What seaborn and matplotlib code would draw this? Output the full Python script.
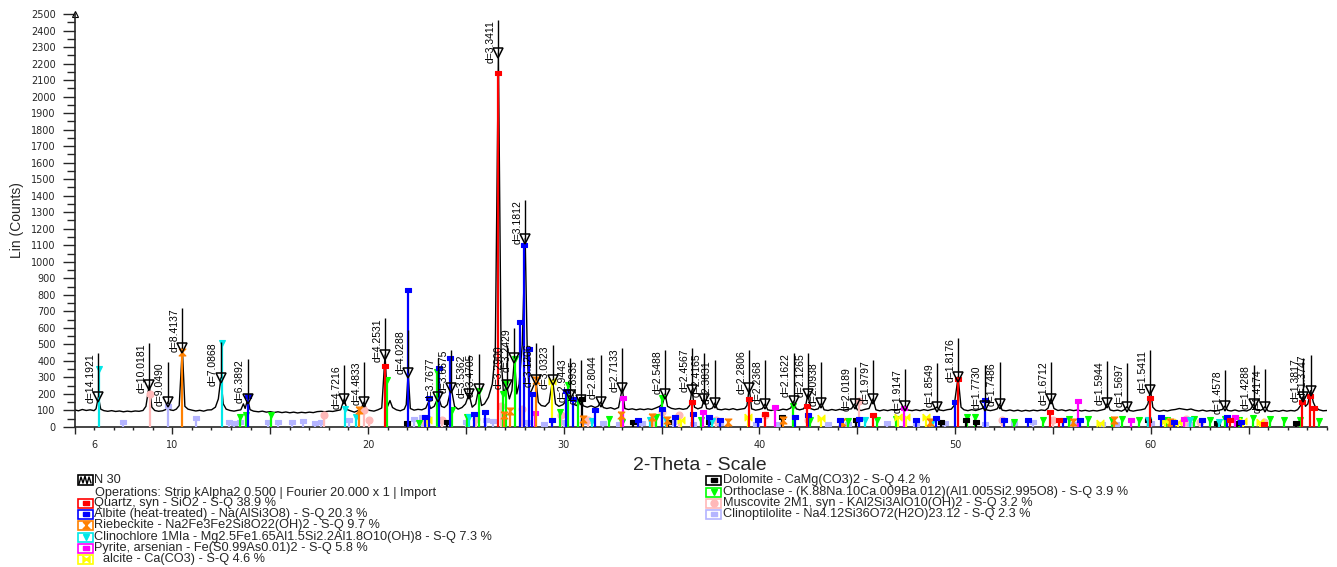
import matplotlib
matplotlib.use("Agg")
import matplotlib.pyplot as plt
from matplotlib.lines import Line2D
from matplotlib.patches import Rectangle
import pandas as pd
import seaborn as sns

W, H = 1337, 567

trace = [
    (5.0, 104), (5.2, 98), (5.4, 106), (5.6, 100), (5.8, 104), (6.0, 99), (6.1, 110), (6.22, 182), (6.34, 108),
    (6.5, 99), (6.7, 95), (6.9, 99), (7.1, 94), (7.3, 97), (7.5, 92), (7.7, 96), (7.9, 93), (8.1, 97), (8.3, 95),
    (8.5, 100), (8.65, 125), (8.82, 254), (8.95, 120), (9.1, 100), (9.3, 95), (9.5, 98), (9.65, 105), (9.77, 151),
    (9.88, 104), (10.05, 100), (10.2, 108), (10.35, 130), (10.51, 478), (10.64, 125), (10.8, 108), (11.0, 102),
    (11.2, 97), (11.4, 101), (11.6, 96), (11.8, 103), (12.0, 104), (12.2, 120), (12.35, 170), (12.48, 297),
    (12.6, 140), (12.75, 108), (12.95, 100), (13.15, 96), (13.35, 101), (13.5, 104), (13.63, 140), (13.72, 112),
    (13.85, 170), (13.97, 105), (14.15, 96), (14.4, 92), (14.6, 96), (14.8, 90), (15.0, 93), (15.2, 88),
    (15.4, 92), (15.6, 87), (15.8, 91), (16.0, 86), (16.2, 90), (16.4, 85), (16.6, 89), (16.8, 86), (17.0, 90),
    (17.2, 87), (17.4, 93), (17.6, 95), (17.8, 92), (18.0, 96), (18.2, 94), (18.4, 99), (18.6, 104), (18.78, 170),
    (18.92, 106), (19.1, 98), (19.3, 90), (19.5, 100), (19.65, 110), (19.79, 151), (19.92, 105), (20.1, 100),
    (20.3, 96), (20.5, 104), (20.7, 115), (20.87, 436), (21.0, 125), (21.12, 160), (21.25, 118), (21.45, 104),
    (21.65, 98), (21.85, 108), (21.95, 135), (22.05, 327), (22.16, 112), (22.35, 102), (22.55, 107), (22.75, 104),
    (22.95, 114), (23.08, 150), (23.2, 112), (23.38, 125), (23.59, 182), (23.75, 125), (23.9, 118), (24.05, 135),
    (24.25, 236), (24.42, 125), (24.6, 108), (24.8, 118), (24.98, 140), (25.16, 200), (25.32, 120), (25.5, 140),
    (25.65, 230), (25.8, 130), (25.95, 140), (26.15, 180), (26.35, 260), (26.5, 450), (26.66, 2264), (26.8, 420),
    (26.92, 200), (27.08, 254), (27.22, 170), (27.35, 220), (27.48, 417), (27.6, 200), (27.72, 260), (27.88, 500),
    (28.03, 1140), (28.14, 420), (28.24, 200), (28.35, 220), (28.58, 284), (28.7, 150), (28.85, 130), (29.05, 125),
    (29.25, 150), (29.43, 284), (29.58, 140), (29.75, 125), (29.95, 135), (30.15, 160), (30.33, 194), (30.48, 140),
    (30.65, 130), (30.77, 145), (30.88, 163), (31.0, 128), (31.2, 120), (31.4, 128), (31.6, 118), (31.75, 125),
    (31.89, 151), (32.02, 118), (32.2, 112), (32.4, 117), (32.6, 108), (32.8, 118), (32.99, 236), (33.12, 112),
    (33.3, 106), (33.5, 110), (33.7, 104), (33.9, 109), (34.1, 105), (34.3, 110), (34.5, 106), (34.7, 115),
    (34.9, 125), (35.05, 140), (35.18, 200), (35.3, 125), (35.5, 113), (35.7, 108), (35.9, 112), (36.1, 107),
    (36.3, 112), (36.43, 130), (36.55, 224), (36.68, 120), (36.85, 110), (37.05, 118), (37.18, 170), (37.3, 112),
    (37.45, 108), (37.6, 115), (37.72, 145), (37.85, 108), (38.05, 104), (38.25, 109), (38.45, 105), (38.65, 111),
    (38.85, 104), (39.05, 108), (39.25, 112), (39.36, 130), (39.48, 236), (39.6, 110), (39.8, 102), (40.0, 106),
    (40.15, 112), (40.29, 139), (40.42, 104), (40.6, 100), (40.8, 106), (41.0, 101), (41.2, 108), (41.4, 104),
    (41.6, 115), (41.74, 157), (41.88, 110), (42.05, 104), (42.25, 110), (42.36, 130), (42.48, 200), (42.6, 112),
    (42.8, 104), (43.0, 110), (43.17, 145), (43.3, 104), (43.5, 100), (43.7, 106), (43.9, 101), (44.1, 107),
    (44.3, 102), (44.5, 107), (44.7, 110), (44.86, 139), (45.0, 104), (45.2, 100), (45.4, 107), (45.6, 112),
    (45.8, 170), (45.95, 104), (46.15, 98), (46.35, 104), (46.55, 99), (46.75, 105), (46.95, 100), (47.15, 106),
    (47.3, 112), (47.44, 127), (47.58, 103), (47.8, 99), (48.0, 104), (48.2, 99), (48.4, 105), (48.6, 100),
    (48.8, 106), (48.95, 110), (49.07, 121), (49.2, 103), (49.4, 99), (49.6, 105), (49.8, 108), (49.95, 130),
    (50.15, 303), (50.3, 120), (50.45, 104), (50.65, 99), (50.85, 105), (51.05, 100), (51.25, 107), (51.38, 112),
    (51.5, 127), (51.62, 103), (51.8, 99), (52.0, 104), (52.15, 110), (52.27, 139), (52.4, 102), (52.6, 98),
    (52.8, 103), (53.0, 97), (53.2, 102), (53.4, 96), (53.6, 101), (53.8, 97), (54.0, 102), (54.2, 98),
    (54.4, 103), (54.6, 100), (54.75, 115), (54.9, 171), (55.05, 112), (55.25, 100), (55.45, 104), (55.65, 98),
    (55.85, 104), (56.05, 99), (56.25, 103), (56.45, 97), (56.65, 101), (56.85, 96), (57.05, 100), (57.25, 97),
    (57.45, 102), (57.65, 108), (57.78, 145), (57.92, 103), (58.1, 98), (58.3, 102), (58.5, 96), (58.65, 105),
    (58.78, 123), (58.92, 100), (59.1, 96), (59.3, 101), (59.5, 104), (59.7, 110), (59.85, 140), (59.98, 224),
    (60.1, 120), (60.25, 101), (60.45, 96), (60.65, 101), (60.85, 97), (61.05, 103), (61.25, 106), (61.45, 112),
    (61.65, 108), (61.85, 104), (62.05, 109), (62.25, 101), (62.45, 97), (62.65, 102), (62.85, 96), (63.05, 100),
    (63.25, 95), (63.45, 101), (63.65, 106), (63.79, 127), (63.92, 101), (64.1, 97), (64.3, 103), (64.5, 96),
    (64.7, 100), (64.9, 97), (65.1, 108), (65.25, 139), (65.38, 103), (65.55, 99), (65.7, 106), (65.84, 123),
    (65.98, 98), (66.15, 94), (66.35, 99), (66.55, 95), (66.75, 101), (66.95, 96), (67.15, 100), (67.35, 97),
    (67.5, 105), (67.65, 130), (67.77, 182), (67.9, 125), (68.02, 140), (68.17, 220), (68.3, 150), (68.42, 118),
    (68.6, 104), (68.8, 98), (69.0, 100),
]

# labelled peaks: position, peak counts, top of the label line, label
peak_tt = [6.22, 8.82, 9.77, 10.51, 12.48, 13.85, 18.78, 19.79, 20.87, 22.05, 23.59, 24.25, 25.16, 25.65,
           26.66, 27.08, 27.48, 28.03, 28.58, 29.43, 30.33, 30.88, 31.89, 32.99, 35.18, 36.55, 37.18, 37.72,
           39.48, 40.29, 41.74, 42.48, 43.17, 44.86, 45.80, 47.44, 49.07, 50.15, 51.50, 52.27, 54.90, 57.78,
           58.78, 59.98, 63.79, 65.25, 65.84, 67.77, 68.17]
peak_cnt = [182, 254, 151, 478, 297, 170, 170, 151, 436, 327, 182, 236, 200, 230,
            2264, 254, 417, 1140, 284, 284, 194, 163, 151, 236, 200, 224, 170, 145,
            236, 139, 157, 200, 145, 139, 170, 127, 121, 303, 127, 139, 171, 145,
            123, 224, 127, 139, 123, 182, 220]
peak_top = [448, 508, 394, 720, 515, 412, 375, 394, 660, 587, 418, 466, 436, 442,
            2464, 496, 599, 1374, 508, 496, 418, 406, 436, 478, 466, 478, 448, 406,
            466, 406, 448, 448, 394, 363, 406, 351, 387, 539, 375, 394, 395, 400,
            387, 466, 345, 375, 351, 418, 436]
peak_lbl = ["d=14.1921", "d=10.0181", "d=9.0490", "d=8.4137", "d=7.0868", "d=6.3892", "d=4.7216", "d=4.4833",
            "d=4.2531", "d=4.0288", "d=3.7677", "d=3.6675", "d=3.5362", "d=3.4705", "d=3.3411", "d=3.2900",
            "d=3.2429", "d=3.1812", "d=3.1206", "d=3.0323", "d=2.9443", "d=2.8935", "d=2.8044", "d=2.7133",
            "d=2.5488", "d=2.4567", "d=2.4165", "d=2.3831", "d=2.2806", "d=2.2368", "d=2.1622", "d=2.1265",
            "d=2.0938", "d=2.0189", "d=1.9797", "d=1.9147", "d=1.8549", "d=1.8176", "d=1.7730", "d=1.7486",
            "d=1.6712", "d=1.5944", "d=1.5697", "d=1.5411", "d=1.4578", "d=1.4288", "d=1.4174", "d=1.3817",
            "d=1.3747"]

# reference stick patterns of the identified phases
quartz_tt = [20.86, 26.64, 36.54, 39.47, 40.30, 42.45, 45.79, 50.14, 54.87, 55.33, 59.96, 64.04, 65.79, 67.74, 68.14, 68.32]
quartz_h = [369, 2140, 150, 170, 80, 130, 70, 290, 90, 40, 175, 40, 20, 150, 188, 115]

albite_tt = [13.87, 22.04, 22.9, 23.1, 23.6, 24.2, 25.4, 26.0, 27.77, 27.95, 28.22, 28.4, 29.4, 30.1, 30.45,
             31.6, 33.8, 35.0, 35.7, 36.6, 37.4, 38.0, 39.9, 41.8, 42.5, 44.1, 45.1, 48.0, 49.0, 50.0, 51.5,
             52.5, 53.7, 55.5, 56.4, 60.5, 61.2, 62.6, 63.9, 64.6]
albite_h = [188, 830, 60, 175, 357, 418, 80, 90, 636, 1100, 470, 200, 40, 220, 170,
            100, 40, 110, 60, 80, 60, 40, 45, 60, 70, 40, 50, 40, 55, 150, 165,
            40, 40, 45, 40, 60, 30, 40, 60, 30]

riebeckite_tt = [10.51, 19.55, 26.95, 27.25, 28.58, 31.0, 32.9, 34.5, 35.3, 38.4, 41.2, 44.2, 48.7, 56.0, 58.1, 61.0]
riebeckite_h = [455, 100, 70, 95, 284, 50, 70, 60, 40, 30, 40, 30, 30, 30, 40, 30]

clinochlore_tt = [6.25, 12.52, 18.83, 19.4, 25.15, 31.45, 34.4, 35.2, 37.6, 45.4, 48.8, 59.85, 62.0, 63.5]
clinochlore_h = [350, 508, 110, 60, 60, 35, 40, 45, 35, 45, 30, 40, 40, 30]

pyrite_tt = [28.52, 33.05, 37.1, 40.8, 47.4, 56.3, 59.0, 61.7, 64.3]
pyrite_h = [85, 175, 90, 120, 115, 160, 40, 50, 60]

calcite_tt = [23.05, 29.42, 36.0, 39.42, 43.17, 47.1, 47.5, 48.5, 57.4, 60.7, 61.4, 64.7, 65.6]
calcite_h = [45, 280, 45, 60, 55, 60, 60, 60, 25, 35, 30, 35, 30]

dolomite_tt = [22.0, 24.05, 30.95, 33.55, 35.35, 37.4, 41.15, 44.95, 49.3, 50.55, 51.05, 59.85, 63.4, 64.4, 67.4]
dolomite_h = [25, 30, 170, 30, 30, 30, 60, 40, 30, 40, 30, 40, 25, 25, 25]

orthoclase_tt = [13.45, 13.75, 15.05, 20.98, 22.6, 23.5, 24.3, 25.05, 25.65, 26.9, 27.05, 27.5, 29.8, 30.2,
                 30.75, 32.3, 33.0, 34.7, 35.0, 37.0, 41.7, 42.6, 44.5, 46.0, 47.0, 50.6, 51.0, 53.0, 54.5,
                 55.8, 56.8, 58.0, 58.5, 59.4, 60.8, 62.2, 63.0, 63.8, 64.5, 65.2, 66.1, 66.8, 67.6, 68.6]
orthoclase_h = [60, 70, 70, 284, 25, 333, 100, 60, 220, 200, 266, 410, 90, 254,
                150, 50, 30, 60, 176, 40, 130, 40, 35, 40, 50, 60, 60, 30, 40,
                50, 50, 40, 50, 40, 45, 50, 40, 50, 40, 55, 50, 40, 45, 35]

muscovite_tt = [8.85, 17.75, 19.8, 20.05, 22.85, 23.8, 25.5, 26.8, 27.85, 29.85, 31.25, 34.6, 35.0, 35.9,
                37.8, 40.3, 42.5, 45.1, 52.4, 55.0, 61.8, 62.5, 65.8]
muscovite_h = [200, 70, 100, 40, 35, 40, 50, 130, 110, 70, 40, 60, 90, 70,
               40, 70, 40, 160, 40, 40, 50, 30, 30]

clinoptilolite_tt = [7.5, 9.78, 11.2, 12.9, 13.15, 13.45, 14.9, 15.4, 16.1, 16.7, 17.3, 17.6, 19.05, 22.35,
                     22.75, 23.0, 25.0, 26.05, 26.4, 28.1, 29.0, 30.0, 31.0, 32.0, 32.8, 34.0, 35.6, 36.6,
                     38.0, 39.8, 41.0, 43.5, 44.5, 46.5, 48.0, 49.5, 51.5, 53.0, 54.0, 56.0, 57.5, 58.2,
                     60.0, 62.0]
clinoptilolite_h = [30, 130, 55, 30, 25, 30, 30, 30, 30, 35, 25, 30, 40, 50,
                    60, 55, 30, 40, 35, 30, 20, 30, 30, 25, 20, 25, 30, 20,
                    25, 20, 20, 20, 20, 25, 20, 25, 20, 25, 30, 20, 20, 20,
                    25, 20]

scan_name = "N 30"
scan_ops = "Operations: Strip kAlpha2 0.500 | Fourier 20.000 x 1 | Import"

RECT = [(-1, -0.55), (1, -0.55), (1, 0.55), (-1, 0.55), (-1, -0.55)]
HOURGLASS = [(-1, 1), (1, 1), (-1, -1), (1, -1), (-1, 1)]
BOWTIE = [(-1, 1), (-1, -1), (1, 1), (1, -1), (-1, 1)]

phases = [
    ("Quartz, syn - SiO2 - S-Q 38.9 %", quartz_tt, quartz_h, "#ff0000", RECT),
    ("Albite (heat-treated) - Na(AlSi3O8) - S-Q 20.3 %", albite_tt, albite_h, "#0000ff", RECT),
    ("Riebeckite - Na2Fe3Fe2Si8O22(OH)2 - S-Q 9.7 %", riebeckite_tt, riebeckite_h, "#ff8000", HOURGLASS),
    ("Clinochlore 1MIa - Mg2.5Fe1.65Al1.5Si2.2Al1.8O10(OH)8 - S-Q 7.3 %", clinochlore_tt, clinochlore_h, "#00e8e8", "v"),
    ("Pyrite, arsenian - Fe(S0.99As0.01)2 - S-Q 5.8 %", pyrite_tt, pyrite_h, "#ff00ff", RECT),
    ("alcite - Ca(CO3) - S-Q 4.6 %", calcite_tt, calcite_h, "#ffff00", BOWTIE),
    ("Dolomite - CaMg(CO3)2 - S-Q 4.2 %", dolomite_tt, dolomite_h, "#000000", RECT),
    ("Orthoclase - (K.88Na.10Ca.009Ba.012)(Al1.005Si2.995O8) - S-Q 3.9 %", orthoclase_tt, orthoclase_h, "#00ff00", "v"),
    ("Muscovite 2M1, syn - KAl2Si3AlO10(OH)2 - S-Q 3.2 %", muscovite_tt, muscovite_h, "#ffb8b8", "o"),
    ("Clinoptilolite - Na4.12Si36O72(H2O)23.12 - S-Q 2.3 %", clinoptilolite_tt, clinoptilolite_h, "#b4b4ff", RECT),
]

sns.set_style("ticks")
plt.rcParams['font.family'] = ['Liberation Sans', 'DejaVu Sans']


def fx(px):
    return px / W


def fy(py):
    return 1 - py / H


fig = plt.figure(figsize=(W / 100, H / 100), dpi=100)
ax = fig.add_axes([fx(74.5), fy(427), (1327 - 74.5) / W, (427 - 14) / H])

df = pd.DataFrame({"tt": [p[0] for p in trace], "cnt": [p[1] for p in trace]})
sns.lineplot(data=df, x="tt", y="cnt", color="black", lw=1.0, estimator=None, sort=False, ax=ax, zorder=2)

# stick patterns, weakest phases underneath
for name, tt, hh, col, mk in reversed(phases):
    ax.vlines(tt, 0, hh, color=col, lw=1.6, zorder=3)
    ax.plot(tt, hh, ls="none", marker=mk, color=col, ms=5, mew=0.8, zorder=3)

# peak markers with d-spacing labels
for t, c, top, lbl in zip(peak_tt, peak_cnt, peak_top, peak_lbl):
    ax.vlines(t, c, top, color="black", lw=1.0, zorder=5)
    ax.plot([t], [c], ls="none", marker="v", mfc="none", mec="black", ms=6.5, mew=1.1, zorder=6)
    ax.annotate(lbl, xy=(t, top), xytext=(-2, 0), textcoords="offset points", rotation=90,
                ha="right", va="top", fontsize=7.5, color="black",
                family=["Liberation Sans Narrow", "Liberation Sans", "DejaVu Sans"], zorder=6)

ax.plot([5.05], [2500], marker="^", ms=4, mfc="none", mec="black", mew=0.8, clip_on=False)

ax.set_xlim(5, 69)
ax.set_ylim(0, 2500)
maj = list(range(5, 70, 5))
ax.set_xticks(maj, labels=[str(v) if v % 10 == 0 else "" for v in maj])
mnr = [v for v in range(5, 70) if v % 5]
ax.set_xticks(mnr, minor=True, labels=["6" if v == 6 else "" for v in mnr])
ax.set_yticks(range(0, 2501, 100))
ax.set_yticks(range(50, 2500, 100), minor=True)
ax.tick_params(axis="x", which="major", length=5, width=1, pad=4, labelsize=7, direction="out")
ax.tick_params(axis="x", which="minor", length=2.5, width=1, pad=6.5, labelsize=7, direction="out")
ax.tick_params(axis="y", which="major", length=8.6, width=1, pad=5, labelsize=7, direction="out")
ax.tick_params(axis="y", which="minor", length=5.8, width=1, direction="out")
for t in ax.get_xticklabels() + ax.get_xticklabels(minor=True) + ax.get_yticklabels():
    t.set_fontfamily("DejaVu Sans")
ax.set_xlabel("")
ax.set_ylabel("")
sns.despine(ax=ax)
for s in ("left", "bottom"):
    ax.spines[s].set_linewidth(1.2)

fig.text(fx(700), fy(465), "2-Theta - Scale", ha="center", va="center", fontsize=14)
fig.text(fx(17), fy(220), "Lin (Counts)", rotation=90, ha="center", va="center", fontsize=10)

# legend block under the axis
fs = 9.2
fig.add_artist(Rectangle((fx(78), fy(485)), 15 / W, 10 / H, transform=fig.transFigure,
                         fill=False, ec="black", lw=1.2))
fig.add_artist(Line2D([fx(79), fx(81), fx(83), fx(85), fx(87), fx(89), fx(91)],
                      [fy(484), fy(477), fy(483), fy(476), fy(484), fy(477), fy(483)],
                      color="black", lw=1.0, transform=fig.transFigure))
fig.text(fx(94), fy(480), scan_name, fontsize=fs, va="center", ha="left")
fig.text(fx(95), fy(493), scan_ops, fontsize=fs, va="center", ha="left")

rows = [(78, 94, 503), (78, 94, 514), (78, 94, 525), (78, 94, 537), (78, 94, 548), (78, 103, 559),
        (706, 723, 480), (706, 723, 492), (706, 723, 503), (706, 723, 514)]
for (name, tt, hh, col, mk), (ix, tx, y) in zip(phases, rows):
    fig.add_artist(Rectangle((fx(ix), fy(y + 4.5)), 15 / W, 9 / H, transform=fig.transFigure,
                             fill=False, ec=col, lw=1.2))
    fig.add_artist(Line2D([fx(ix + 7.5)], [fy(y)], ls="none", marker=mk, color=col, ms=5,
                          transform=fig.transFigure))
    fig.text(fx(tx), fy(y), name, fontsize=fs, va="center", ha="left")

fig.savefig("out.png", dpi=100)
